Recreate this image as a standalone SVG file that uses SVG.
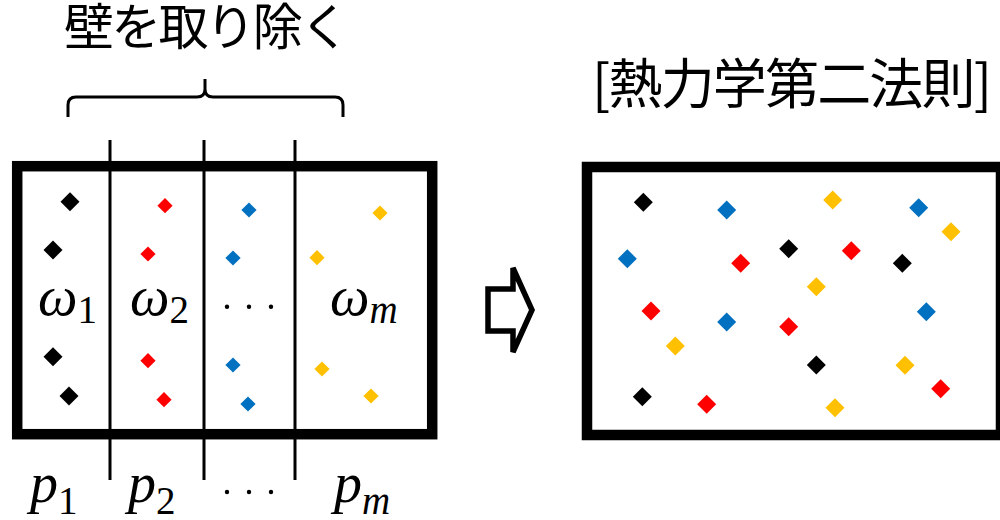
<svg xmlns="http://www.w3.org/2000/svg" xmlns:xlink="http://www.w3.org/1999/xlink" width="1000" height="520" viewBox="0 0 1000 520">
  <style>
    .jp { font-family: "Noto Sans CJK JP", "Noto Sans CJK SC", sans-serif; fill: #000; }
    .math { font-family: "Liberation Serif", "DejaVu Serif", serif; fill: #000; }
    .wall { stroke: #000; stroke-width: 3; fill: none; }
    .box { fill: #fff; stroke: #000; stroke-width: 10.5; }
    .k { fill: #000; }
    .r { fill: #ff0000; }
    .b { fill: #0070c0; }
    .y { fill: #ffc000; }
  </style>
  <defs>
    <path id="dL" d="M0,-9.5 L9.5,0 L0,9.5 L-9.5,0 Z"/>
    <path id="dS" d="M0,-7.6 L7.6,0 L0,7.6 L-7.6,0 Z"/>
  </defs>

  <rect width="1000" height="520" fill="#fff"/>

  <!-- left: partitioned container -->
  <g id="title-left">
    <text class="jp" x="64" y="45" font-size="50" textLength="286" lengthAdjust="spacing">壁を取り除く</text>
  </g>
  <g id="brace">
    <path class="wall" d="M68,117 V105 Q68,97 76,97 H197 Q205,97 205,89 V79 M205,89 Q205,97 213,97 H335 Q343,97 343,105 V117"/>
  </g>

  <g id="box-left">
    <rect class="box" x="17.2" y="166.2" width="415" height="268"/>
  </g>

  <g id="walls">
    <line class="wall" x1="110" y1="140" x2="110" y2="480"/>
    <line class="wall" x1="204" y1="140" x2="204" y2="480"/>
    <line class="wall" x1="295" y1="140" x2="295" y2="480"/>
  </g>

  <g id="particles-left">
    <use xlink:href="#dL" class="k" x="70" y="201.7"/>
    <use xlink:href="#dL" class="k" x="53" y="250"/>
    <use xlink:href="#dL" class="k" x="53" y="356.7"/>
    <use xlink:href="#dL" class="k" x="69" y="396"/>
    <use xlink:href="#dS" class="r" x="165" y="205.7"/>
    <use xlink:href="#dS" class="r" x="148" y="254"/>
    <use xlink:href="#dS" class="r" x="148" y="360.7"/>
    <use xlink:href="#dS" class="r" x="164" y="399.7"/>
    <use xlink:href="#dS" class="b" x="249" y="210"/>
    <use xlink:href="#dS" class="b" x="233" y="258"/>
    <use xlink:href="#dS" class="b" x="233" y="365"/>
    <use xlink:href="#dS" class="b" x="248" y="404"/>
    <use xlink:href="#dS" class="y" x="380" y="213"/>
    <use xlink:href="#dS" class="y" x="317" y="257.7"/>
    <use xlink:href="#dS" class="y" x="322" y="369"/>
    <use xlink:href="#dS" class="y" x="371" y="396"/>
  </g>

  <!-- math labels: italic variable, upright numeric subscript -->
  <g id="omega-labels" class="math">
    <text x="38" y="315" font-size="56" font-style="italic">ω<tspan dy="8" font-size="39" font-style="normal">1</tspan></text>
    <text x="130" y="315" font-size="56" font-style="italic">ω<tspan dy="8" font-size="39" font-style="normal">2</tspan></text>
    <circle cx="227" cy="306.7" r="2.2"/>
    <circle cx="249" cy="306.7" r="2.2"/>
    <circle cx="271" cy="306.7" r="2.2"/>
    <text x="330" y="315" font-size="56" font-style="italic">ω<tspan dy="8" font-size="39">m</tspan></text>
  </g>

  <g id="p-labels" class="math">
    <text x="30" y="502" font-size="56" font-style="italic">p<tspan dy="12" font-size="39" font-style="normal">1</tspan></text>
    <text x="128" y="502" font-size="56" font-style="italic">p<tspan dy="12" font-size="39" font-style="normal">2</tspan></text>
    <circle cx="227" cy="492" r="2.2"/>
    <circle cx="249" cy="492" r="2.2"/>
    <circle cx="271" cy="492" r="2.2"/>
    <text x="334" y="502" font-size="56" font-style="italic">p<tspan dy="12" font-size="39">m</tspan></text>
  </g>

  <!-- transition arrow -->
  <g id="arrow">
    <polygon points="488,289 513,289 513,268 532,310 513,352 513,331 488,331" fill="#fff" stroke="#000" stroke-width="5.5" stroke-linejoin="miter"/>
  </g>

  <!-- right: mixed container -->
  <g id="title-right">
    <text class="jp" x="592" y="104" font-size="54" textLength="400" lengthAdjust="spacing">[熱力学第二法則]</text>
  </g>

  <g id="box-right">
    <rect class="box" x="587" y="167" width="414" height="268"/>
  </g>

  <g id="particles-right">
    <use xlink:href="#dL" class="k" x="643.3" y="202.3"/>
    <use xlink:href="#dL" class="k" x="788.7" y="248.7"/>
    <use xlink:href="#dL" class="k" x="902.3" y="263.3"/>
    <use xlink:href="#dL" class="k" x="816.3" y="365"/>
    <use xlink:href="#dL" class="k" x="642.3" y="396.7"/>
    <use xlink:href="#dL" class="b" x="726.7" y="210"/>
    <use xlink:href="#dL" class="b" x="918.7" y="207.7"/>
    <use xlink:href="#dL" class="b" x="627.3" y="258.7"/>
    <use xlink:href="#dL" class="b" x="726.7" y="322"/>
    <use xlink:href="#dL" class="b" x="926.3" y="311.7"/>
    <use xlink:href="#dL" class="y" x="832.7" y="200"/>
    <use xlink:href="#dL" class="y" x="951" y="231.7"/>
    <use xlink:href="#dL" class="y" x="816.3" y="286.7"/>
    <use xlink:href="#dL" class="y" x="675.3" y="346"/>
    <use xlink:href="#dL" class="y" x="905" y="365.3"/>
    <use xlink:href="#dL" class="y" x="835" y="407.7"/>
    <use xlink:href="#dL" class="r" x="740.7" y="263.3"/>
    <use xlink:href="#dL" class="r" x="851.3" y="250.7"/>
    <use xlink:href="#dL" class="r" x="651" y="311"/>
    <use xlink:href="#dL" class="r" x="788.7" y="326.7"/>
    <use xlink:href="#dL" class="r" x="940.7" y="388.7"/>
    <use xlink:href="#dL" class="r" x="706.7" y="404.3"/>
  </g>
</svg>
